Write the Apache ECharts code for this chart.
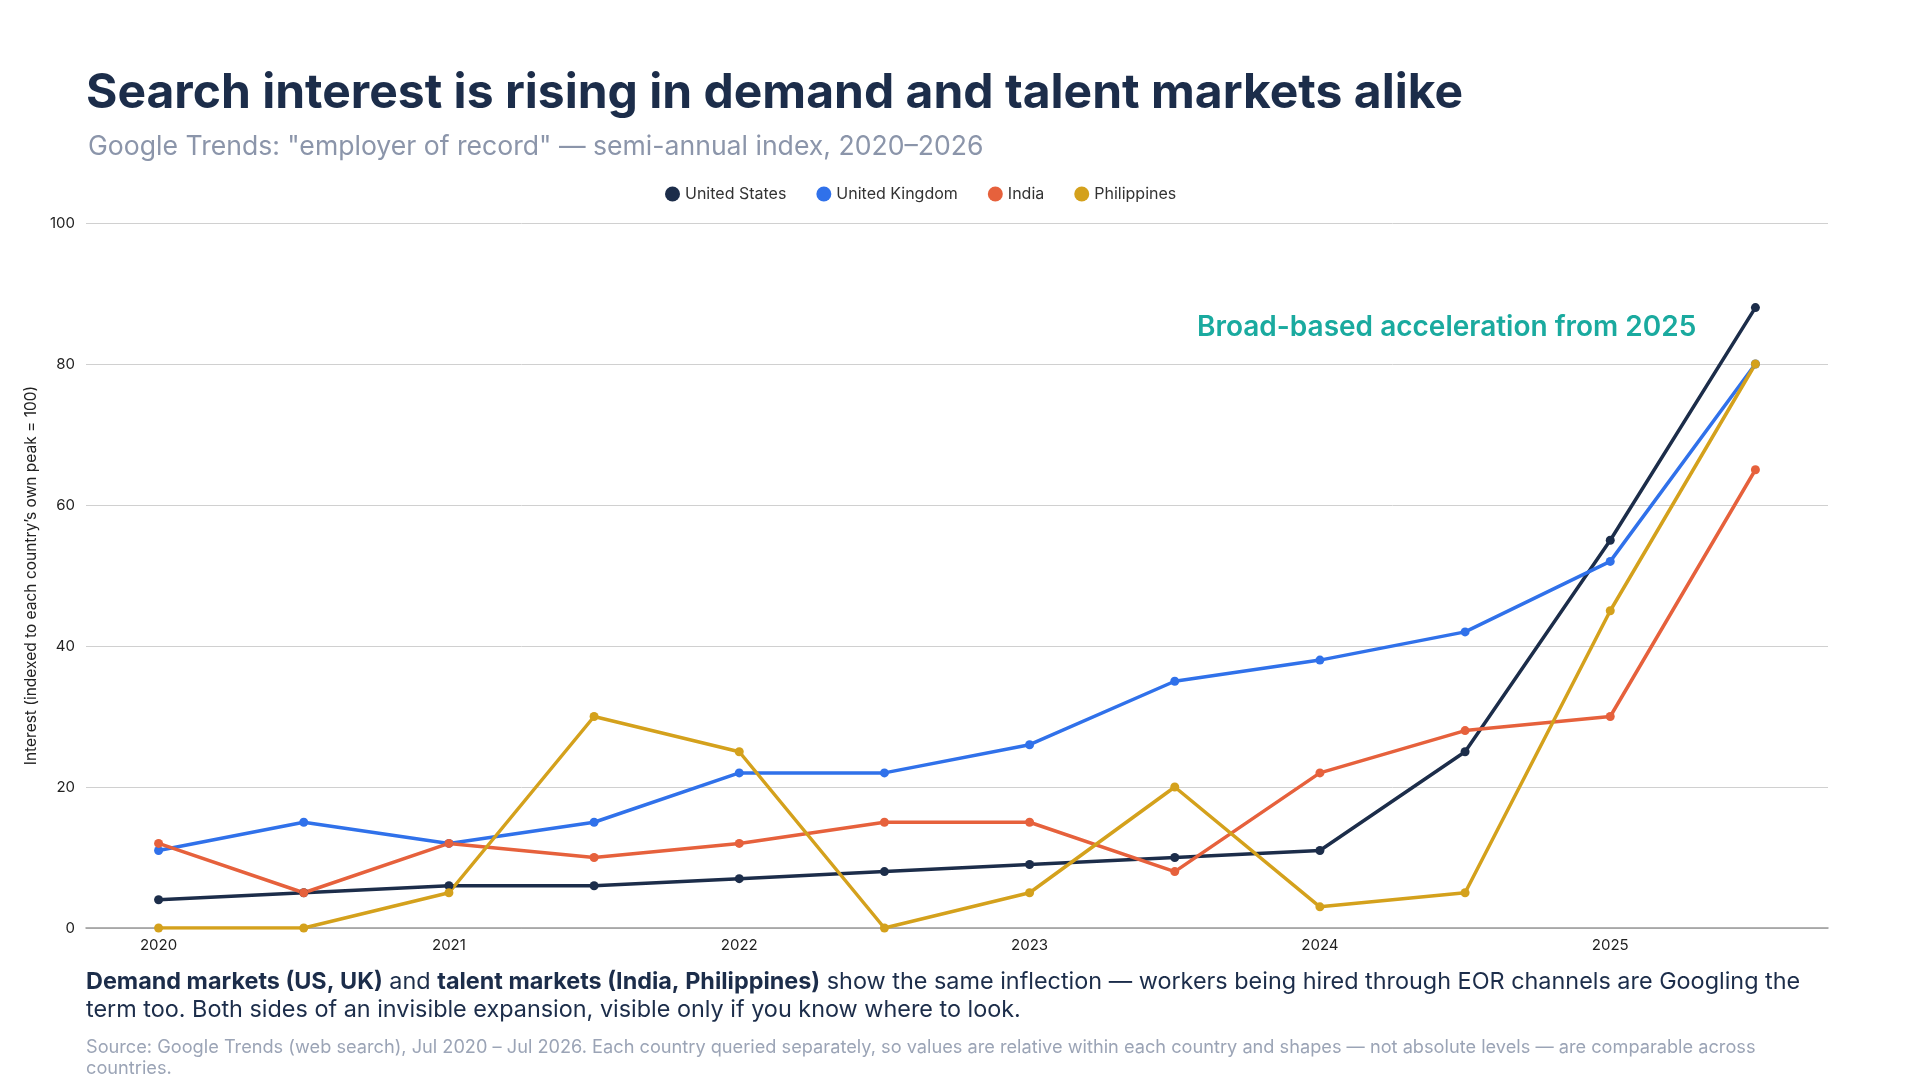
<!DOCTYPE html>
<html>
<head>
<meta charset="utf-8">
<script src="https://cdn.jsdelivr.net/npm/echarts@6/dist/echarts.min.js"></script>
<style>
  html, body { margin: 0; padding: 0; background: #fff; }
  #chart { width: 1920px; height: 1080px; }
</style>
</head>
<body>
<div id="chart"></div>
<script>
// half-year periods, Jul 2020 .. Jul 2025 (labels shown on whole years)
const periods = ['2020', '2020 H2', '2021', '2021 H2', '2022', '2022 H2', '2023', '2023 H2', '2024', '2024 H2', '2025', '2025 H2']
const unitedStates = [4, 5, 6, 6, 7, 8, 9, 10, 11, 25, 55, 88]
const unitedKingdom = [11, 15, 12, 15, 22, 22, 26, 35, 38, 42, 52, 80]
const india = [12, 5, 12, 10, 12, 15, 15, 8, 22, 28, 30, 65]
const philippines = [0, 0, 5, 30, 25, 0, 5, 20, 3, 5, 45, 80]

const font = 'Inter, "Noto Sans", sans-serif'
const navy = '#1c2d4a'

const mkLine = (name, data, color, width) => ({
  name,
  type: 'line',
  data,
  symbol: 'circle',
  symbolSize: 9,
  showSymbol: true,
  itemStyle: { color },
  lineStyle: { color, width },
  emphasis: { disabled: true }
})

const chart = echarts.init(document.getElementById('chart'))
const option = {
  animation: false,
  textStyle: { fontFamily: font },
  title: [
    {
      text: 'Search interest is rising in demand and talent markets alike',
      left: 81,
      top: 65,
      textStyle: { fontSize: 48, fontWeight: 700, color: navy, fontFamily: font }
    },
    {
      text: 'Google Trends: "employer of record" \u2014 semi-annual index, 2020\u20132026',
      left: 83,
      top: 128,
      textStyle: { fontSize: 26.6, fontWeight: 400, color: '#8b95aa', fontFamily: font }
    }
  ],
  legend: {
    left: 660,
    top: 181,
    icon: 'circle',
    itemWidth: 15,
    itemHeight: 15,
    itemGap: 30,
    textStyle: { fontSize: 16, color: '#333', fontFamily: font },
    data: ['United States', 'United Kingdom', 'India', 'Philippines']
  },
  grid: { left: 86, right: 92, top: 223, bottom: 152 },
  xAxis: {
    type: 'category',
    data: periods,
    boundaryGap: true,
    axisLine: { lineStyle: { color: '#999', width: 1.5 } },
    axisTick: { show: false },
    axisLabel: {
      interval: 1,
      margin: 10,
      fontSize: 15,
      color: '#222',
      formatter: (v) => v.slice(0, 4)
    },
    splitLine: { show: false }
  },
  yAxis: {
    type: 'value',
    min: 0,
    max: 100,
    interval: 20,
    name: 'Interest (indexed to each country\u2019s own peak = 100)',
    nameLocation: 'middle',
    nameGap: 46,
    nameTextStyle: { fontSize: 15.5, color: '#222' },
    axisLine: { show: false },
    axisTick: { show: false },
    axisLabel: { fontSize: 15, color: '#222', margin: 11 },
    splitLine: { lineStyle: { color: '#d0d0d0', width: 1 } }
  },
  graphic: [
    {
      type: 'text',
      left: 1197,
      top: 314,
      style: {
        text: 'Broad-based acceleration from 2025',
        font: '600 28px ' + font,
        fill: '#1aaa9f'
      }
    },
    {
      type: 'text',
      left: 86,
      top: 968,
      style: {
        text: '{b|Demand markets (US, UK)} and {b|talent markets (India, Philippines)} show the same inflection \u2014 workers being hired through EOR channels are Googling the\nterm too. Both sides of an invisible expansion, visible only if you know where to look.',
        rich: {
          b: { fontSize: 23.4, fontWeight: 700, fill: navy, fontFamily: font, lineHeight: 28 }
        },
        fontSize: 23.4,
        fontFamily: font,
        lineHeight: 28,
        fill: navy
      }
    },
    {
      type: 'text',
      left: 86,
      top: 1037,
      style: {
        text: 'Source: Google Trends (web search), Jul 2020 \u2013 Jul 2026. Each country queried separately, so values are relative within each country and shapes \u2014 not absolute levels \u2014 are comparable across\ncountries.',
        font: '400 18.2px ' + font,
        lineHeight: 21,
        fill: '#9ba4b6'
      }
    }
  ],
  series: [
    mkLine('United States', unitedStates, '#1c2d4a', 3.5),
    mkLine('United Kingdom', unitedKingdom, '#3071ea', 3.5),
    mkLine('India', india, '#e6613c', 3.5),
    mkLine('Philippines', philippines, '#d4a11c', 3.5)
  ]
}
chart.setOption(option)
window.addEventListener('resize', () => chart.resize())
</script>
</body>
</html>
